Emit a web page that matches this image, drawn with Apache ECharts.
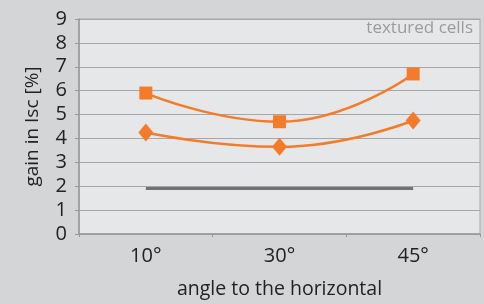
<!DOCTYPE html>
<html>
<head>
<meta charset="utf-8">
<style>
  html, body { margin: 0; padding: 0; background: #d4d5d6; }
  #chart { width: 484px; height: 304px; }
</style>
<script src="https://cdn.jsdelivr.net/npm/echarts@6/dist/echarts.min.js"></script>
</head>
<body>
<div id="chart"></div>
<script>
const angles = ['10°', '30°', '45°'];
const squareVals = [5.9, 4.7, 6.7];
const diamondVals = [4.25, 3.65, 4.75];
const refVals = [1.9, 1.9, 1.9];

const orange = '#f47b2a';
const ff = '"Open Sans", "Noto Sans", sans-serif';

const chart = echarts.init(document.getElementById('chart'));
chart.setOption({
    animation: false,
    backgroundColor: '#d4d5d6',
    grid: { left: 79, right: 4, top: 19, bottom: 68, show: true, backgroundColor: '#e6e7e8', borderColor: '#a6a7a8', borderWidth: 1 },
    graphic: [{
        type: 'text', right: 11, top: 20,
        style: { text: 'textured cells', fill: '#9a9b9c', font: '17px ' + ff }
    }],
    xAxis: {
        type: 'category', data: angles,
        name: 'angle to the horizontal', nameLocation: 'middle', nameGap: 45,
        nameTextStyle: { color: '#222', fontSize: 19.5, fontFamily: ff },
        axisLine: { lineStyle: { color: '#999', width: 1.5 } },
        axisTick: { show: true, length: 3, lineStyle: { color: '#999' } },
        axisLabel: { color: '#222', fontSize: 20, fontFamily: ff, margin: 12 },
        splitLine: { show: false }
    },
    yAxis: {
        type: 'value', min: 0, max: 9, interval: 1,
        name: 'gain in Isc [%]', nameLocation: 'middle', nameGap: 37,
        nameTextStyle: { color: '#222', fontSize: 19, fontFamily: ff },
        axisLine: { show: true, lineStyle: { color: '#999', width: 1.5 } },
        axisTick: { show: true, length: 4, lineStyle: { color: '#999' } },
        axisLabel: { color: '#222', fontSize: 20, fontFamily: ff, margin: 12 },
        splitLine: { lineStyle: { color: '#a6a7a8', width: 1 } }
    },
    series: [
        { name: 'square', type: 'line', data: squareVals, smooth: 0.5,
          symbol: 'rect', symbolSize: 13, itemStyle: { color: orange },
          lineStyle: { color: orange, width: 2.5 } },
        { name: 'diamond', type: 'line', data: diamondVals, smooth: 0.5,
          symbol: 'diamond', symbolSize: [15, 18], itemStyle: { color: orange },
          lineStyle: { color: orange, width: 2.5 } },
        { name: 'reference', type: 'line', data: refVals, symbol: 'none',
          lineStyle: { color: '#717274', width: 3 } }
    ]
});
</script>
</body>
</html>
